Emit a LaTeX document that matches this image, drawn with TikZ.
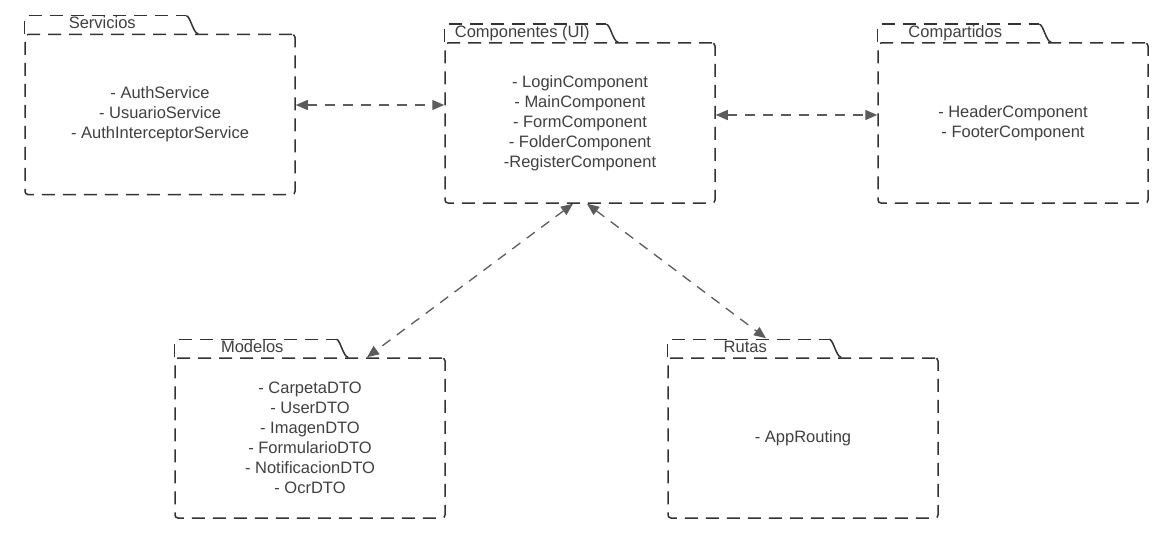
\documentclass[tikz,border=0pt]{standalone}
\usepackage{fontspec}
\setmainfont{Liberation Sans}
\usetikzlibrary{arrows.meta}
\definecolor{linec}{HTML}{333333}
\definecolor{arrc}{HTML}{5C5C5C}
\definecolor{txtc}{HTML}{404040}
\tikzset{
 pkgbody/.style={draw=linec, line width=1.5pt, dash pattern=on 13pt off 8pt, rounded corners=3pt, minimum width=270pt, minimum height=160pt, inner sep=0pt, align=center, text=txtc, font=\fontsize{16.5}{20}\selectfont},
 pkgtab/.style={draw=linec, line width=1.5pt, dash pattern=on 13pt off 8pt},
 pkgcurve/.style={draw=linec, line width=1.5pt},
 pkgtitle/.style={anchor=base, text=txtc, font=\fontsize{16.5}{20}\selectfont, inner sep=0pt},
 dep/.style={draw=arrc, line width=1.3pt, dash pattern=on 10pt off 8pt, {Triangle[length=12pt,width=10pt]}-{Triangle[length=12pt,width=10pt]}}
}
\newcommand{\pkgfolder}[4]{%
 \node[pkgbody] (#1) at (#2) {#4};
 \draw[pkgtab,rounded corners=3pt] (#1.north west) -- ++(0,-18) -- ++(162,0);
 \draw[pkgcurve] ([xshift=162pt,yshift=18pt]#1.north west) .. controls +(4,0) and +(-5,0) .. ++(12,18);
 \node[pkgtitle] (#1-title) at ([xshift=78pt,yshift=5pt]#1.north west) {#3};
}
\begin{document}
\begin{tikzpicture}[x=1pt,y=-1pt]
\useasboundingbox (0,0) rectangle (1166,556);
\pkgfolder{serv}{160,114.5}{Servicios}{- AuthService\\- UsuarioService\\- AuthInterceptorService}
\pkgfolder{comp}{580,123}{Componentes (UI)}{- LoginComponent\\- MainComponent\\- FormComponent\\- FolderComponent\\-RegisterComponent}
\pkgfolder{compart}{1013,123}{Compartidos}{- HeaderComponent\\- FooterComponent}
\pkgfolder{model}{310,438}{Modelos}{- CarpetaDTO\\- UserDTO\\- ImagenDTO\\- FormularioDTO\\- NotificacionDTO\\- OcrDTO}
\pkgfolder{rutas}{803,438}{Rutas}{- AppRouting}
\draw[dep] ([yshift=9.5pt]serv.east) -- ([yshift=18pt]comp.west);
\draw[dep] ([yshift=8pt]comp.east) -- ([yshift=8pt]compart.west);
\draw[dep] ([xshift=-7pt]comp.south) -- ([xshift=57pt]model.north);
\draw[dep] ([xshift=7pt]comp.south) -- ([xshift=-37pt,yshift=19pt]rutas.north);
\end{tikzpicture}
\end{document}
